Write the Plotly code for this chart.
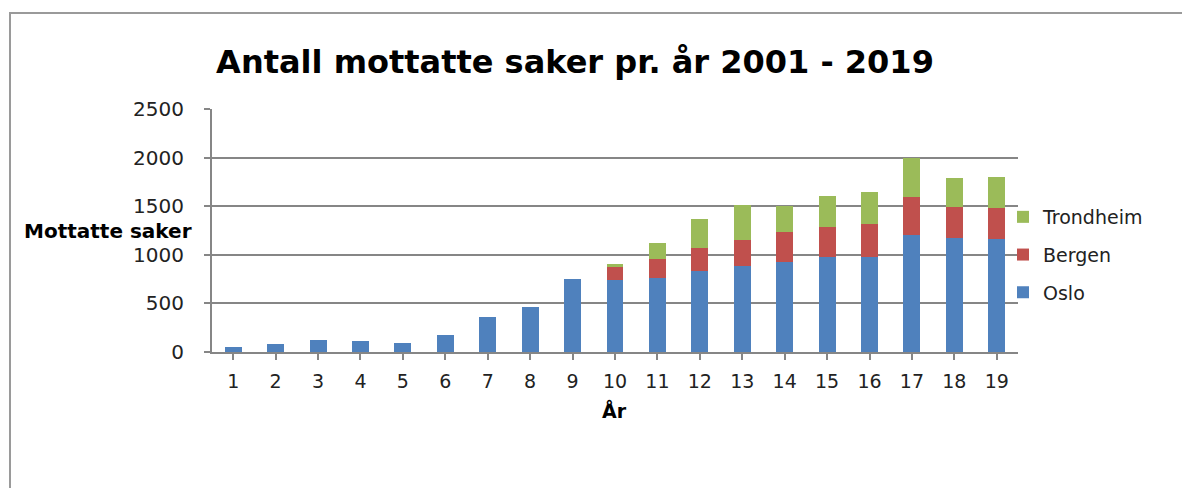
import plotly.graph_objects as go

years = [str(i) for i in range(1, 20)]
oslo = [50, 85, 125, 115, 95, 180, 355, 462, 755, 745, 760, 832, 887, 925, 977, 977, 1205, 1177, 1163]
bergen = [0, 0, 0, 0, 0, 0, 0, 0, 0, 128, 196, 241, 269, 314, 304, 335, 390, 315, 318]
trondheim = [0, 0, 0, 0, 0, 0, 0, 0, 0, 31, 166, 291, 353, 259, 321, 335, 405, 300, 322]

series = [("Oslo", oslo, "#4F81BD", 3), ("Bergen", bergen, "#C0504D", 2), ("Trondheim", trondheim, "#9BBB59", 1)]

FONT = "DejaVu Sans"
fig = go.Figure()
for name, vals, col, rank in series:
    fig.add_trace(go.Bar(x=years, y=vals, name=name, legendgroup=name, legendrank=rank,
                         marker=dict(color=col, line=dict(width=0))))

# page body has an 8px margin: work in reference coordinates minus 8
OFF = 8
W, H = 1190 - OFF, 488 - OFF
L, R, T, B = 212 - OFF, 1018 - OFF, 109 - OFF, 352 - OFF
pw, ph = R - L, B - T

def px(x):
    return (x - OFF - L) / pw

def py(y):
    return (B - (y - OFF)) / ph

fig.update_layout(
    width=W, height=H, barmode="stack", bargap=0.6,
    paper_bgcolor="white", plot_bgcolor="white",
    margin=dict(l=L, r=W - R, t=T, b=H - B, autoexpand=False),
    font=dict(family=FONT, color="#222", size=18),
    title=dict(text="<b>Antall mottatte saker pr. år 2001 - 2019</b>", x=(575 - OFF) / W, xanchor="center",
               y=1 - (62 - OFF) / H, yanchor="middle", font=dict(family=FONT, size=32, color="black")),
    legend=dict(x=px(1003), y=py(198), xanchor="left", yanchor="top",
                traceorder="grouped", tracegroupgap=10,
                font=dict(family=FONT, size=19, color="#222"), itemwidth=30, bgcolor="rgba(0,0,0,0)"),
    xaxis=dict(showline=True, linecolor="#868686", linewidth=2, ticks="outside", ticklen=6,
               tickcolor="#868686", tickwidth=2, showgrid=False, tickfont=dict(size=19),
               ticklabelstandoff=5),
    yaxis=dict(range=[0, 2500], tickvals=[0, 500, 1000, 1500, 2000, 2500],
               showline=True, linecolor="#868686", linewidth=2, ticks="outside", ticklen=6,
               tickcolor="#868686", tickwidth=2, showgrid=True, gridcolor="#868686", gridwidth=1.5,
               tickfont=dict(size=20), ticklabelstandoff=16, zeroline=False),
    shapes=[dict(type="rect", xref="paper", yref="paper", x0=px(10), x1=px(1250), y0=py(560), y1=py(13),
                 line=dict(color="#9a9a9a", width=2), layer="below")],
    annotations=[
        dict(text="<b>År</b>", xref="paper", yref="paper", x=px(614), y=py(410), xanchor="center",
             yanchor="middle", showarrow=False, font=dict(family=FONT, size=19, color="black")),
        dict(text="<b>Mottatte saker</b>", xref="paper", yref="paper", x=px(194), y=py(231),
             xanchor="right", yanchor="middle", showarrow=False, font=dict(family=FONT, size=20, color="black")),
    ],
)

fig.write_html("out.html")
